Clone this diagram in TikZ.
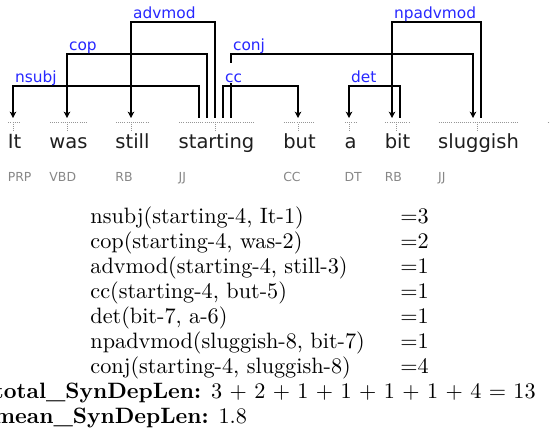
\documentclass[tikz,border=0pt]{standalone}
\usepackage{fontspec}
\newfontfamily\dvs{DejaVu Sans}
\usetikzlibrary{arrows.meta,calc}
\definecolor{labblue}{RGB}{40,40,255}
\definecolor{taggray}{RGB}{135,135,135}
\definecolor{dotgray}{RGB}{150,150,150}
\definecolor{wordink}{RGB}{30,30,30}
\tikzset{
  wordtxt/.style={inner sep=0pt, anchor=base, text=wordink, font=\dvs\fontsize{8.78}{10}\selectfont},
  tagtxt/.style={inner sep=0pt, anchor=base west, text=taggray, font=\dvs\fontsize{5.6}{7}\selectfont},
  deplab/.style={anchor=base west, fill=white, inner xsep=0.5pt, inner ysep=0pt,
    text height=9pt, text depth=0pt, text=labblue, font=\dvs\fontsize{6.93}{8}\selectfont},
  deparc/.style={line width=0.68pt, draw=black, miter limit=4},
  arrowed/.style={-{Stealth[length=2.8pt,width=2.9pt,inset=0.7pt]}},
  dotline/.style={draw=dotgray, line width=0.45pt, dash pattern=on 0.45pt off 0.5pt},
  rowtxt/.style={anchor=base west, inner sep=0pt, font=\fontsize{10}{12}\selectfont}
}
\begin{document}
\begin{tikzpicture}[x=0.45pt,y=-0.45pt]
\useasboundingbox (0,0) rectangle (550,432);

% token words
\node[wordtxt] (w1) at (14.5,148) {It};
\node[wordtxt] (w2) at (68.5,148) {was};
\node[wordtxt] (w3) at (132.5,148) {still};
\node[wordtxt] (w4) at (216.5,148) {starting};
\node[wordtxt] (w5) at (299.5,148) {but};
\node[wordtxt] (w6) at (350.5,148) {a};
\node[wordtxt] (w7) at (397.5,148) {bit};
\node[wordtxt] (w8) at (478.5,148) {sluggish};

% part-of-speech tags
\coordinate (tagrow) at (0,181);
\node[tagtxt] at (w1.west |- tagrow) {PRP};
\node[tagtxt] at (w2.west |- tagrow) {VBD};
\node[tagtxt] at (w3.west |- tagrow) {RB};
\node[tagtxt] at (w4.west |- tagrow) {JJ};
\node[tagtxt] at (w5.west |- tagrow) {CC};
\node[tagtxt] at (w6.west |- tagrow) {DT};
\node[tagtxt] at (w7.west |- tagrow) {RB};
\node[tagtxt] at (w8.west |- tagrow) {JJ};

% attachment points above each token
\coordinate (p1) at (13,118);
\coordinate (p2) at (67,118);
\coordinate (p3) at (131,118);
\coordinate (p4) at (215,118);
\coordinate (p5) at (298,118);
\coordinate (p6) at (349,118);
\coordinate (p7) at (396,118);
\coordinate (p8) at (477,118);

% dotted span marks over the tokens
\coordinate (dotrow) at (0,122.5);
\foreach \w/\p in {w1/p1,w2/p2,w3/p3,w4/p4,w5/p5,w6/p6,w7/p7,w8/p8}{
  \draw[dotline] ($(\w.west |- dotrow)+(1,0)$) -- ($(\w.east |- dotrow)+(-1,0)$);
  \draw[dotline] ($(\p)+(0,6)$) -- ($(\p)+(0,13)$);
}
\draw[dotline] (547.5,122.5) -- (556,122.5);

% dependency brackets: head up, across, down to dependent
\draw[deparc,arrowed] ($(p4)+(-16,0)$) -- ++(0,-32) -| (p1);
\draw[deparc,arrowed] ($(p4)+(-8,0)$) -- ++(0,-64) -| (p2);
\draw[deparc,arrowed] (p4) -- ++(0,-96) -| (p3);
\draw[deparc,arrowed] ($(p4)+(8,0)$) -- ++(0,-32) -| (p5);
\draw[deparc,arrowed] ($(p4)+(16,0)$) -- ++(0,-64) -| ($(p8)+(-4,0)$);
\draw[deparc,arrowed] ($(p7)+(4,0)$) -- ++(0,-32) -| (p6);
\draw[deparc,arrowed] ($(p8)+(4,0)$) -- ++(0,-96) -| ($(p7)+(-4,0)$);

% relation labels
\node[deplab] at (13.5,83) {nsubj};
\node[deplab] at (67.5,51) {cop};
\node[deplab] at (131.5,19) {advmod};
\node[deplab] at (223.5,83) {cc};
\node[deplab] at (231.5,51) {conj};
\node[deplab] at (349.5,83) {det};
\node[deplab] at (392.5,19) {npadvmod};

% relation list with lengths
\node[rowtxt] at (90,223) {nsubj(starting-4, It-1)};
\node[rowtxt] at (90,248) {cop(starting-4, was-2)};
\node[rowtxt] at (90,273) {advmod(starting-4, still-3)};
\node[rowtxt] at (90,298) {cc(starting-4, but-5)};
\node[rowtxt] at (90,323) {det(bit-7, a-6)};
\node[rowtxt] at (90,348) {npadvmod(sluggish-8, bit-7)};
\node[rowtxt] at (90,373) {conj(starting-4, sluggish-8)};
\node[rowtxt] at (400,223) {=3};
\node[rowtxt] at (400,248) {=2};
\node[rowtxt] at (400,273) {=1};
\node[rowtxt] at (400,298) {=1};
\node[rowtxt] at (400,323) {=1};
\node[rowtxt] at (400,348) {=1};
\node[rowtxt] at (400,373) {=4};
\node[rowtxt] at (-6.5,398) {\textbf{total\_SynDepLen:} 3 + 2 + 1 + 1 + 1 + 1 + 4 = 13};
\node[rowtxt] at (-6.5,423) {\textbf{mean\_SynDepLen:} 1.8};
\end{tikzpicture}
\end{document}
